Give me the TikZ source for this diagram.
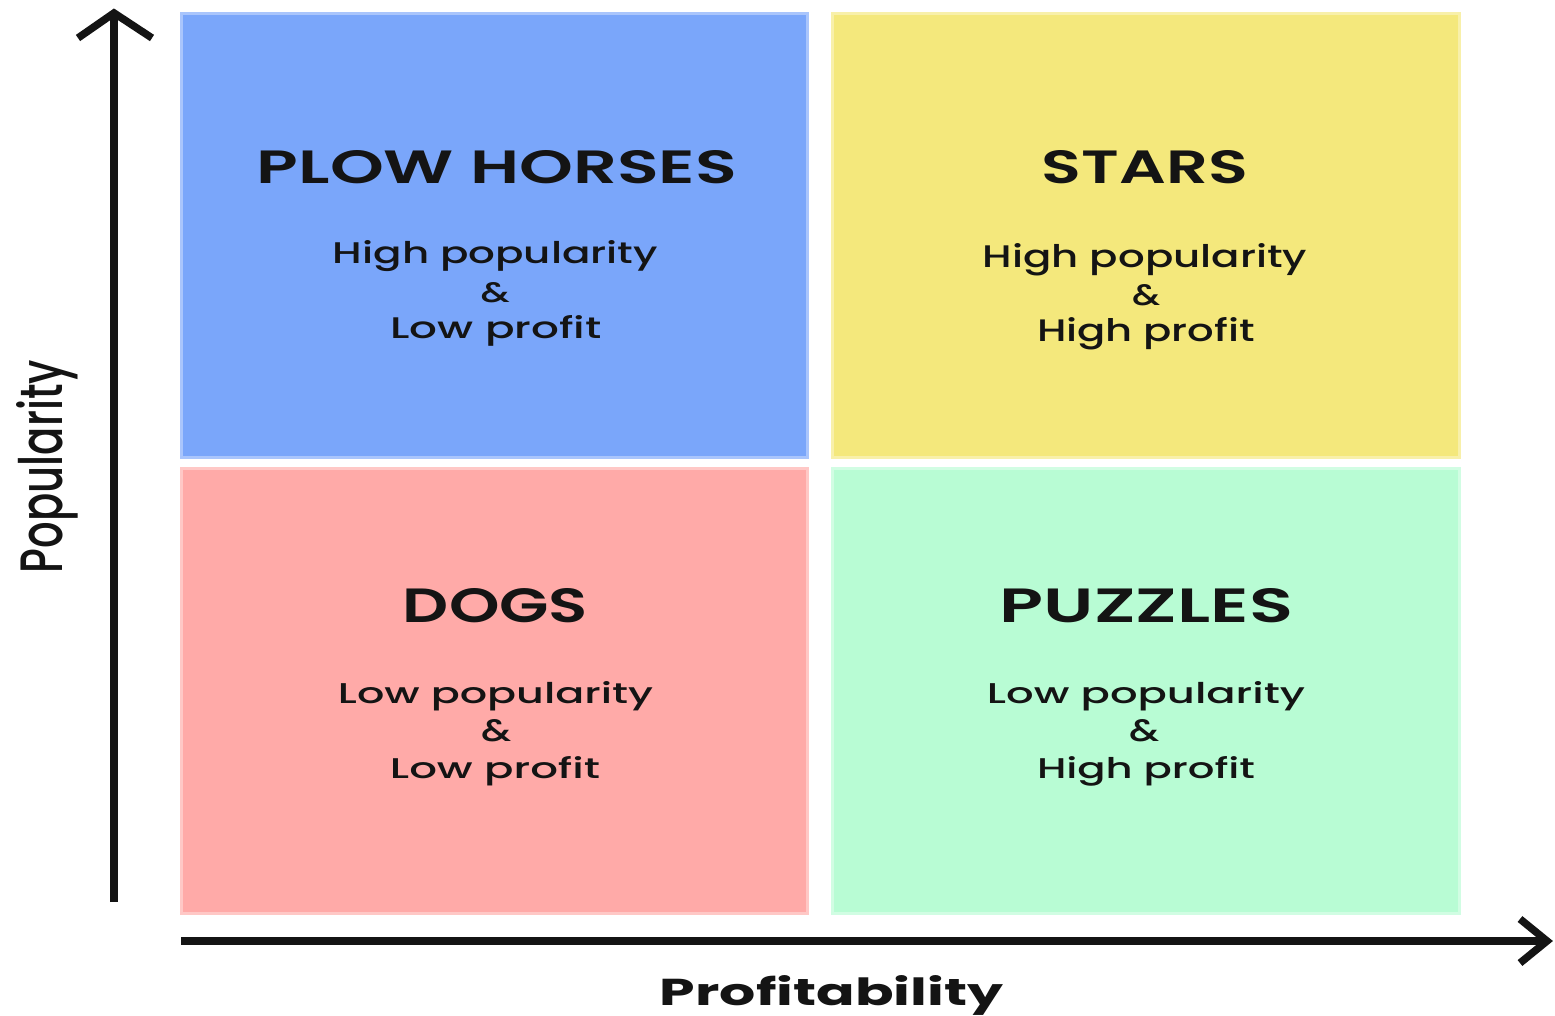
\documentclass[tikz,border=0pt]{standalone}
\usepackage{fontspec}
\setmainfont{Poppins}
\newfontfamily\subfont{Poppins Medium}
\newfontfamily\headfont{Poppins SemiBold}
\usetikzlibrary{calc}

\definecolor{ink}{HTML}{141414}
\definecolor{plowblue}{HTML}{7AA6FA}
\definecolor{staryellow}{HTML}{F4E87C}
\definecolor{dogpink}{HTML}{FFAAA8}
\definecolor{puzzlegreen}{HTML}{B8FCD4}

\tikzset{
  quad/.style={fill=#1, draw=#1!65!white, line width=3pt},
  title/.style={inner sep=0pt, anchor=base, text=ink, font=\headfont},
  sub/.style={inner sep=0pt, anchor=base, text=ink, font=\subfont},
  axislabel/.style={inner sep=0pt, anchor=base, text=ink},
  axis/.style={line width=7.5pt, draw=ink, line join=miter}
}

\begin{document}
\begin{tikzpicture}[x=1pt,y=-1pt]
\useasboundingbox[fill=white] (0,0) rectangle (1555,1015);

% quadrants
\path[quad=plowblue]    (181.5,13.5)  rectangle (807.5,457.5);
\path[quad=staryellow]  (832.5,13.5)  rectangle (1459.5,457.5);
\path[quad=dogpink]     (181.5,468.5) rectangle (807.5,913.5);
\path[quad=puzzlegreen] (832.5,468.5) rectangle (1459.5,913.5);

% axes
\coordinate (yfoot) at (114,902);
\coordinate (ytip)  at (114,13);
\coordinate (xfoot) at (181,941);
\coordinate (xtip)  at (1547,941);
\draw[axis] (yfoot) -- (ytip);
\draw[axis] ($(ytip)+(-36,25)$) -- (ytip) -- ($(ytip)+(38,25)$);
\draw[axis] (xfoot) -- (xtip);
\draw[axis] ($(xtip)+(-27,-22)$) -- (xtip) -- ($(xtip)+(-27,22)$);

% axis labels
\node[axislabel, rotate=90, font=\subfont] (poplabel) at (62,466.5) {\resizebox{213pt}{46pt}{Popularity}};
\node[axislabel, font=\bfseries] (proflabel) at (831.5,1005) {\resizebox{343pt}{30pt}{Profitability}};

% plow horses
\node[title] (plowT) at (497,183) {\resizebox{480pt}{33pt}{PLOW HORSES}};
\node[sub] (plowA) at (495.5,263) {\resizebox{325pt}{23pt}{High popularity}};
\node[sub] (plowB) at (495,302) {\resizebox{29pt}{20pt}{\&}};
\node[sub] (plowC) at (496,338) {\resizebox{211pt}{23pt}{Low profit}};

% stars
\node[title] (starT) at (1145,183) {\resizebox{206pt}{33pt}{STARS}};
\node[sub] (starA) at (1145,267) {\resizebox{324pt}{24pt}{High popularity}};
\node[sub] (starB) at (1146,305) {\resizebox{28pt}{21pt}{\&}};
\node[sub] (starC) at (1146,341) {\resizebox{218pt}{24pt}{High profit}};

% dogs
\node[title] (dogT) at (495.5,622) {\resizebox{185pt}{34pt}{DOGS}};
\node[sub] (dogA) at (495.5,703) {\resizebox{315pt}{22pt}{Low popularity}};
\node[sub] (dogB) at (496,741) {\resizebox{30pt}{22pt}{\&}};
\node[sub] (dogC) at (495,778) {\resizebox{210pt}{22pt}{Low profit}};

% puzzles
\node[title] (puzT) at (1146.5,622) {\resizebox{293pt}{34pt}{PUZZLES}};
\node[sub] (puzA) at (1146,703) {\resizebox{318pt}{22pt}{Low popularity}};
\node[sub] (puzB) at (1144,741) {\resizebox{30pt}{22pt}{\&}};
\node[sub] (puzC) at (1146,778) {\resizebox{218pt}{22pt}{High profit}};
\end{tikzpicture}
\end{document}
